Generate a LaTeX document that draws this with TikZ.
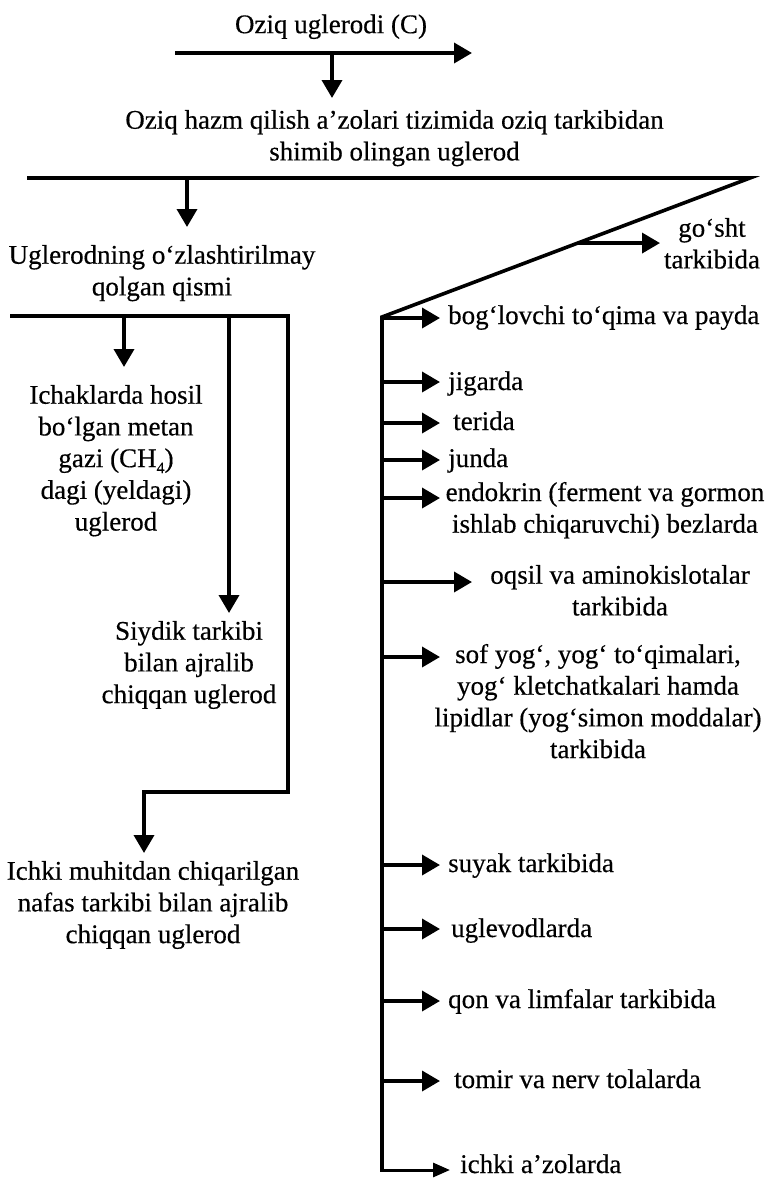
\documentclass[tikz,border=0pt]{standalone}
\usepackage{fontspec}
\setmainfont{Liberation Serif}[FakeBold=0.4]
\usetikzlibrary{arrows.meta,calc}

% small lowered index for chemical formulas
\newcommand\chemidx[1]{\raisebox{-6pt}{\fontsize{16}{16}\selectfont #1}}

\tikzset{
  flow/.style={line width=3.6pt, line join=miter, line cap=butt},
  arr/.style={flow, -{Triangle[length=18pt,width=20pt]}},
  lastarr/.style={line width=3pt, -{Triangle[length=17pt,width=14pt]}},
  lbl/.style={font=\fontsize{27}{31.7}\selectfont, inner sep=0pt, align=center,
    anchor=north, execute at begin node=\strut, execute at end node=\strut},
  item/.style={font=\fontsize{27}{31.7}\selectfont, inner sep=0pt, anchor=base west},
}

\begin{document}
\begin{tikzpicture}[x=1pt, y=-1pt]
\fill[white] (0,0) rectangle (771,1178);
\useasboundingbox (0,0) rectangle (771,1178);

% ---- text blocks (top of first line = baseline - 0.7 baselineskip)
\node[lbl] (food)    at (331,10.8)   {Oziq uglerodi (C)};
\node[lbl] (absorb)  at (394.5,109.8){Oziq hazm qilish a’zolari tizimida oziq tarkibidan\\shimib olingan uglerod};
\node[lbl] (unused)  at (162,244.8)  {Uglerodning o‘zlashtirilmay\\qolgan qismi};
\node[lbl] (methane) at (116,384.8)  {Ichaklarda hosil\\bo‘lgan metan\\gazi (CH\chemidx{4})\\dagi (yeldagi)\\uglerod};
\node[lbl] (urine)   at (189,620.8)  {Siydik tarkibi\\bilan ajralib\\chiqqan uglerod};
\node[lbl] (breath)  at (153,860.8)  {Ichki muhitdan chiqarilgan\\nafas tarkibi bilan ajralib\\chiqqan uglerod};
\node[lbl] (meat)    at (712,217.8)  {go‘sht\\tarkibida};
\node[lbl] (endo)    at (605,481.8)  {endokrin (ferment va gormon\\ishlab chiqaruvchi) bezlarda};
\node[lbl] (protein) at (620,564.8)  {oqsil va aminokislotalar\\tarkibida};
\node[lbl] (fat)     at (598,643.8)  {sof yog‘, yog‘ to‘qimalari,\\yog‘ kletchatkalari hamda\\lipidlar (yog‘simon moddalar)\\tarkibida};

\node[item] (conn)   at (448,324)  {bog‘lovchi to‘qima va payda};
\node[item] (liver)  at (448,390)  {jigarda};
\node[item] (skin)   at (453,430)  {terida};
\node[item] (wool)   at (448,467)  {junda};
\node[item] (bone)   at (448,872)  {suyak tarkibida};
\node[item] (carb)   at (451,937)  {uglevodlarda};
\node[item] (blood)  at (448,1008) {qon va limfalar tarkibida};
\node[item] (nerve)  at (454,1088) {tomir va nerv tolalarda};
\node[item] (organs) at (460,1173) {ichki a’zolarda};

% ---- food intake arrow
\coordinate (inL) at (175,53);
\coordinate (inR) at (472,53);
\coordinate (inJ) at (332,53);
\coordinate (inD) at (332,98);
\draw[arr] (inL) -- (inR);
\draw[arr] (inJ) -- (inD);

% ---- absorbed carbon: bar, slanted link and distribution spine
\coordinate (barL) at (27,178);
\coordinate (barR) at (750,178);
\coordinate (sp0)  at (382,317);
\coordinate (sp1)  at (382,1171.5);
\draw[flow] (barL) -- (barR) -- (sp0) -- (sp1);
\coordinate (barD0) at (187,178);
\coordinate (barD1) at (187,227);
\draw[arr] (barD0) -- (barD1);

% branch from the slanted link
\coordinate (gJ) at ($(barR)!0.468!(sp0)$);
\coordinate (gT) at (660,243);
\draw[arr] (gJ) -- (gJ -| gT);

% branches from the spine
\foreach \yy/\nm/\len in {318/a/58, 382/b/58, 423/c/58, 460/d/58, 498/e/58,
                          582/f/90, 657/g/58, 865/h/58, 929/i/58, 1001/j/58, 1081/k/58}{
  \coordinate (s\nm) at (382,\yy);
  \draw[arr] (s\nm) -- ++(\len,0);
}
\coordinate (sEnd) at (380.2,1170);
\coordinate (sTip) at (450,1170);
\draw[lastarr] (sEnd) -- (sTip);

% ---- unassimilated carbon
\coordinate (lbL) at (10,316);
\coordinate (lbR) at (288,316);
\coordinate (lbB) at (288,792);
\coordinate (lbT) at (144,792);
\coordinate (lbD) at (144,853);
\draw[arr] (lbL) -- (lbR) -- (lbB) -- (lbT) -- (lbD);
\coordinate (m0) at (124,316);
\coordinate (m1) at (124,367);
\draw[arr] (m0) -- (m1);
\coordinate (u0) at (229,316);
\coordinate (u1) at (229,613);
\draw[arr] (u0) -- (u1);
\end{tikzpicture}
\end{document}
